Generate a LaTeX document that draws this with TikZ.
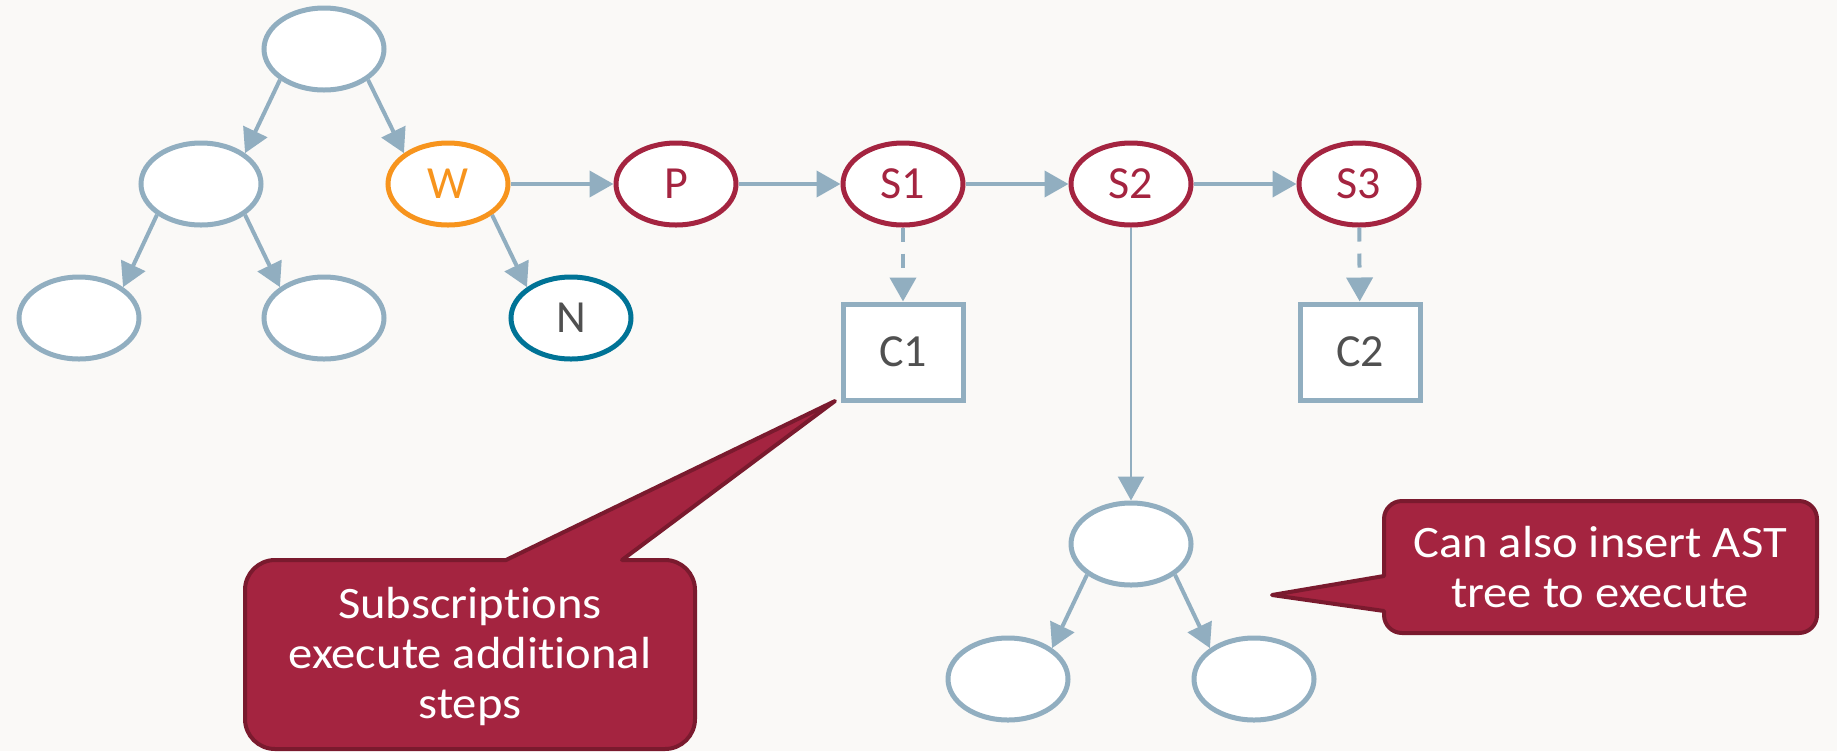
\documentclass[tikz,border=0pt]{standalone}
\usepackage{fontspec}
\setmainfont{Carlito}[Ligatures=NoCommon]
\newfontfamily\notefont{Carlito}[Ligatures=NoCommon, FakeStretch=1.08]
\usetikzlibrary{arrows.meta, shapes.geometric}
\definecolor{bgpaper}{RGB}{250,249,247}
\definecolor{edgeblue}{RGB}{145,174,192}
\definecolor{stepred}{RGB}{164,36,64}
\definecolor{noteedge}{RGB}{122,26,46}
\definecolor{wakeorange}{RGB}{247,148,29}
\definecolor{leafteal}{RGB}{0,115,150}
\definecolor{labelgrey}{RGB}{80,80,80}

\begin{document}
\begin{tikzpicture}[x=0.5pt, y=-0.5pt,
        every node/.style={font=\fontsize{23pt}{27pt}\selectfont},
        treenode/.style={ellipse, draw=edgeblue, line width=2.5pt, fill=white, minimum width=60pt, minimum height=41pt, inner sep=0pt},
        stepnode/.style={treenode, draw=stepred, text=stepred},
        cbox/.style={rectangle, draw=edgeblue, line width=2.5pt, fill=white, minimum width=60pt, minimum height=48pt, text=labelgrey},
        link/.style={draw=edgeblue, line width=2pt, -{Triangle[length=12pt,width=13pt]}},
        sublink/.style={link, dash pattern=on 7pt off 6pt},
        callout/.style={fill=stepred, draw=noteedge, line width=2pt, line join=round},
        notetext/.style={text=white, align=center, font=\notefont\fontsize{22.5pt}{25pt}\selectfont}]
            \path[use as bounding box, fill=bgpaper] (0,0) rectangle (1837,751);

            \node[treenode] (top) at (324,49) {};
            \node[treenode] (sel) at (201,184) {};
            \node[treenode, draw=wakeorange, text=wakeorange] (w) at (448,184) {W};
            \node[treenode] (ll) at (79,318) {};
            \node[treenode] (lr) at (324,318) {};
            \node[treenode, draw=leafteal, text=labelgrey] (n) at (571,318) {N};

            \foreach \name/\x/\txt in {p/676/P, s1/903/S1, s2/1131/S2, s3/1359/S3} {
                \node[stepnode] (\name) at (\x,184) {\txt};
            }

            \node[cbox] (c1) at (903,352) {C1};
            \node[cbox] (c2) at (1360,352) {C2};

            \node[treenode] (sub) at (1131,544) {};
            \node[treenode] (subl) at (1008,679) {};
            \node[treenode] (subr) at (1254,679) {};

            \foreach \a/\b in {top/sel, sel/ll, sub/subl} {
                \draw[link] (\a.215) -- (\b.35);
            }
            \foreach \a/\b in {top/w, sel/lr, w/n, sub/subr} {
                \draw[link] (\a.325) -- (\b.145);
            }
            \foreach \a/\b in {w/p, p/s1, s1/s2, s2/s3} {
                \draw[link] (\a) -- (\b);
            }
            \draw[sublink] (s1) -- (c1);
            \draw[sublink] (s3) -- (c2);
            \draw[link, line width=1.2pt] (s2) -- (sub);

            % callouts
            \coordinate (subtip) at (835,401);
            \draw[callout] (622,560) [rounded corners=15pt] -- (695,560) -- (695,749) -- (245,749) -- (245,560) [sharp corners] -- (506,560) -- (subtip) -- cycle;
            \node[notetext] (subnote) at (470,656) {Subscriptions\\execute additional\\steps};

            \coordinate (asttip) at (1272,595);
            \draw[callout] (1384,611) [rounded corners=9pt] -- (1384,633) -- (1817,633) -- (1817,501) -- (1384,501) [sharp corners] -- (1384,576) -- (asttip) -- cycle;
            \node[notetext] (astnote) at (1600,567) {Can also insert AST\\tree to execute};
        \end{tikzpicture}
\end{document}
